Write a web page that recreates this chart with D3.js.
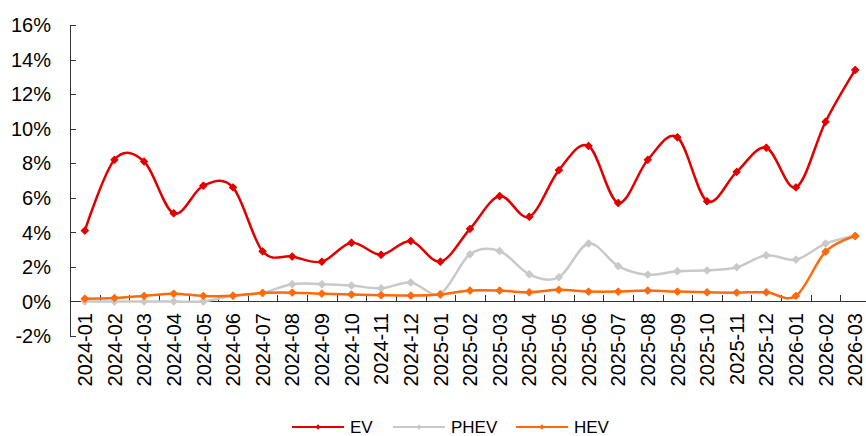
<!DOCTYPE html>
<html>
<head>
<meta charset="utf-8">
<script src="https://cdn.jsdelivr.net/npm/d3@7"></script>
<style>
  body { margin: 0; background: #fff; }
  svg text { font-family: "Liberation Sans", Arial, sans-serif; fill: #000; }
</style>
</head>
<body>
<div id="chart"></div>
<script>
// months on the x axis
var months = ["2024-01","2024-02","2024-03","2024-04","2024-05","2024-06","2024-07","2024-08","2024-09",
  "2024-10","2024-11","2024-12","2025-01","2025-02","2025-03","2025-04","2025-05","2025-06","2025-07",
  "2025-08","2025-09","2025-10","2025-11","2025-12","2026-01","2026-02","2026-03"];

// shares in percent
var evValues   = [4.1, 8.2, 8.1, 5.1, 6.7, 6.6, 2.9, 2.6, 2.3, 3.4, 2.7, 3.5, 2.3, 4.2, 6.1, 4.9, 7.6, 9.0, 5.7,
  8.2, 9.5, 5.8, 7.5, 8.9, 6.6, 10.4, 13.4];
var phevValues = [0.0, 0.0, 0.0, 0.0, 0.0, 0.34, 0.5, 1.0, 1.0, 0.92, 0.76, 1.1, 0.45, 2.73, 2.92, 1.57, 1.4, 3.35, 2.05,
  1.55, 1.75, 1.8, 1.98, 2.67, 2.42, 3.35, 3.79];
var hevValues  = [0.16, 0.2, 0.32, 0.45, 0.32, 0.33, 0.49, 0.51, 0.45, 0.4, 0.36, 0.34, 0.4, 0.63, 0.63, 0.53, 0.67, 0.57, 0.57,
  0.63, 0.57, 0.53, 0.51, 0.53, 0.32, 2.88, 3.79];

var yTicks = [-2, 0, 2, 4, 6, 8, 10, 12, 14, 16];
var seriesNames = ["EV", "PHEV", "HEV"];

var width = 866, height = 436;
var colors = {EV: "#e00000", PHEV: "#c9c9c9", HEV: "#ff6a0a"};

var svg = d3.select("#chart").append("svg")
  .attr("width", width)
  .attr("height", height);

var x = d3.scaleBand()
  .domain(months)
  .range([70, 870]);

var y = d3.scaleLinear()
  .domain([-2, 16])
  .range([336, 25]);

// y axis
var yAxis = svg.append("g");
yAxis.append("line")
  .attr("x1", 70.5).attr("x2", 70.5)
  .attr("y1", y(16)).attr("y2", y(-2))
  .attr("stroke", "#333").attr("stroke-width", 1);

yAxis.selectAll("line.tick")
  .data(yTicks)
  .enter()
  .append("line")
  .attr("class", "tick")
  .attr("x1", 70).attr("x2", 76)
  .attr("y1", function(d) { return Math.round(y(d)) + 0.5; })
  .attr("y2", function(d) { return Math.round(y(d)) + 0.5; })
  .attr("stroke", "#333");

yAxis.selectAll("text")
  .data(yTicks)
  .enter()
  .append("text")
  .attr("x", 51)
  .attr("y", function(d) { return y(d); })
  .attr("dy", "0.36em")
  .attr("text-anchor", "end")
  .style("font-size", "20px")
  .text(function(d) { return d + "%"; });

// x axis at 0%
var xAxis = svg.append("g");
xAxis.append("line")
  .attr("x1", 70).attr("x2", 870)
  .attr("y1", Math.round(y(0)) + 0.5).attr("y2", Math.round(y(0)) + 0.5)
  .attr("stroke", "#333");

xAxis.selectAll("line.tick")
  .data(months.slice(1))
  .enter()
  .append("line")
  .attr("class", "tick")
  .attr("x1", function(d) { return Math.round(x(d)) + 0.5; })
  .attr("x2", function(d) { return Math.round(x(d)) + 0.5; })
  .attr("y1", Math.round(y(0)) - 6)
  .attr("y2", Math.round(y(0)))
  .attr("stroke", "#333");

xAxis.selectAll("text")
  .data(months)
  .enter()
  .append("text")
  .attr("transform", function(d) {
    return "translate(" + (x(d) + x.bandwidth() / 2) + "," + 313 + ") rotate(-90)";
  })
  .attr("dy", "0.36em")
  .attr("text-anchor", "end")
  .style("font-size", "20px")
  .text(function(d) { return d; });

// lines
var line = d3.line()
  .x(function(d, i) { return x(months[i]) + x.bandwidth() / 2; })
  .y(function(d) { return y(d); })
  .curve(d3.curveCardinal.tension(0));

// square turned 45 degrees, like the excel diamond marker
var marker = d3.symbol().type(d3.symbolSquare).size(26);
var legendMarker = d3.symbol().type(d3.symbolSquare).size(14);

function drawSeries(name, values) {
  var g = svg.append("g");
  g.append("path")
    .datum(values)
    .attr("d", line)
    .attr("fill", "none")
    .attr("stroke", colors[name])
    .attr("stroke-width", 2.5);
  g.selectAll("path.mark")
    .data(values)
    .enter()
    .append("path")
    .attr("class", "mark")
    .attr("d", marker)
    .attr("transform", function(d, i) {
      return "translate(" + (x(months[i]) + x.bandwidth() / 2) + "," + y(d) + ") rotate(45)";
    })
    .attr("fill", colors[name])
    .attr("stroke", colors[name])
    .attr("stroke-width", 1)
    .attr("stroke-linejoin", "round");
}

drawSeries("PHEV", phevValues);
drawSeries("HEV", hevValues);
drawSeries("EV", evValues);

// legend
var legendX = [292, 393, 516];
var legend = svg.append("g");
seriesNames.forEach(function(name, i) {
  var lx = legendX[i], ly = 427;
  legend.append("line")
    .attr("x1", lx).attr("x2", lx + 52)
    .attr("y1", ly).attr("y2", ly)
    .attr("stroke", colors[name]).attr("stroke-width", 2.2);
  legend.append("path")
    .attr("d", legendMarker)
    .attr("transform", "translate(" + (lx + 26) + "," + ly + ") rotate(45)")
    .attr("fill", colors[name]);
  legend.append("text")
    .attr("x", lx + 58)
    .attr("y", ly)
    .attr("dy", "0.36em")
    .style("font-size", "17px")
    .text(name);
});
</script>
</body>
</html>
